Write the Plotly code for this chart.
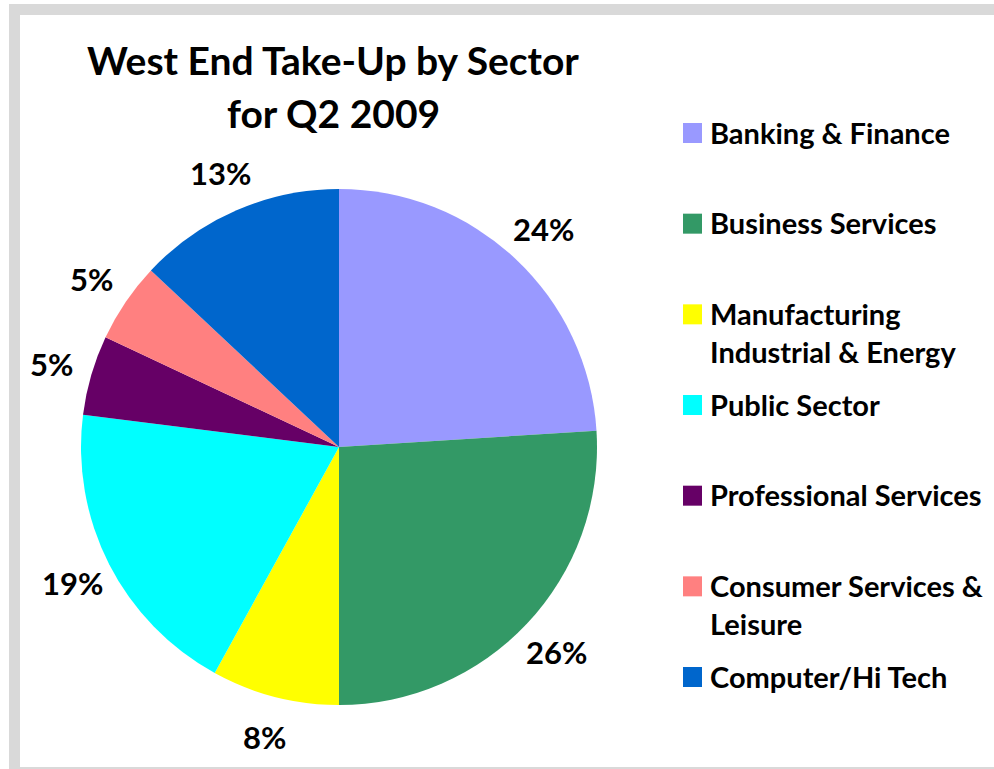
import math
import plotly.graph_objects as go

# Sector shares of West End office take-up, Q2 2009 (per cent)
sectors = [
    "Banking & Finance",
    "Business Services",
    "Manufacturing Industrial & Energy",
    "Public Sector",
    "Professional Services",
    "Consumer Services & Leisure",
    "Computer/Hi Tech",
]
legend_text = [
    "Banking & Finance",
    "Business Services",
    "Manufacturing<br>Industrial & Energy",
    "Public Sector",
    "Professional Services",
    "Consumer Services &<br>Leisure",
    "Computer/Hi Tech",
]
shares = [24, 26, 8, 19, 5, 5, 13]
colors = ["#9999FF", "#339966", "#FFFF00", "#00FFFF", "#660066", "#FF8080", "#0066CC"]

W, H = 994, 769
FONT = "Lato"

# pie placement in pixels
PIE_L, PIE_R, PIE_T, PIE_B = 81, 597, 189, 705
LABEL_GAP = 41  # distance from the rim to the centre of each percentage label


def px(x):
    return x / W


def py(y):
    return 1 - y / H


fig = go.Figure(
    go.Pie(
        labels=sectors,
        values=shares,
        sort=False,
        direction="clockwise",
        rotation=0,
        marker=dict(colors=colors, line=dict(width=0)),
        textinfo="none",
        hoverinfo="label+percent",
        showlegend=False,
        domain=dict(x=[px(PIE_L), px(PIE_R)], y=[py(PIE_B), py(PIE_T)]),
    )
)

shapes = []
grey = "#D9D9D9"
# grey frame: top band, left band, bottom rule
shapes.append(dict(type="rect", xref="paper", yref="paper", x0=px(9), x1=px(994),
                   y0=py(15), y1=py(4), fillcolor=grey, line=dict(width=0), layer="below"))
shapes.append(dict(type="rect", xref="paper", yref="paper", x0=px(9), x1=px(20),
                   y0=py(768), y1=py(4), fillcolor=grey, line=dict(width=0), layer="below"))
shapes.append(dict(type="rect", xref="paper", yref="paper", x0=px(9), x1=px(994),
                   y0=py(769), y1=py(767), fillcolor=grey, line=dict(width=0), layer="below"))

annotations = []
# two-line chart title
for text, yc in [("West End Take-Up by Sector", 60), ("for Q2 2009", 113)]:
    annotations.append(dict(text=text, xref="paper", yref="paper", x=px(333), y=py(yc),
                            xanchor="center", yanchor="middle", showarrow=False,
                            font=dict(family=FONT, size=39, color="black", weight="bold")))

# percentage labels outside the pie, on each slice's mid-angle
cx, cy = (PIE_L + PIE_R) / 2, (PIE_T + PIE_B) / 2
radius = (PIE_R - PIE_L) / 2
total = sum(shares)
cum = 0
for v in shares:
    mid = (cum + v / 2) / total * 2 * math.pi  # clockwise from 12 o'clock
    cum += v
    lx = cx + (radius + LABEL_GAP) * math.sin(mid)
    ly = cy - (radius + LABEL_GAP) * math.cos(mid)
    annotations.append(dict(text=f"{v}%", xref="paper", yref="paper", x=px(lx), y=py(ly),
                            xanchor="center", yanchor="middle", showarrow=False,
                            font=dict(family=FONT, size=31, color="black", weight="bold")))

# legend: coloured square plus label, one entry every ~90.7 px
first_row, pitch = 131.5, 90.67
for i, (lab, col) in enumerate(zip(legend_text, colors)):
    yc = first_row + i * pitch
    shapes.append(dict(type="rect", xref="paper", yref="paper", x0=px(683), x1=px(702),
                       y0=py(yc + 11.5), y1=py(yc - 8.5), fillcolor=col, line=dict(width=0)))
    annotations.append(dict(text=lab, xref="paper", yref="paper", x=px(708), y=py(yc - 19),
                            xanchor="left", yanchor="top", align="left", showarrow=False,
                            font=dict(family=FONT, size=29, color="black", weight="bold")))

fig.update_layout(
    width=W,
    height=H,
    margin=dict(l=0, r=0, t=0, b=0),
    paper_bgcolor="white",
    plot_bgcolor="white",
    shapes=shapes,
    annotations=annotations,
)

fig.write_html("out.html")
